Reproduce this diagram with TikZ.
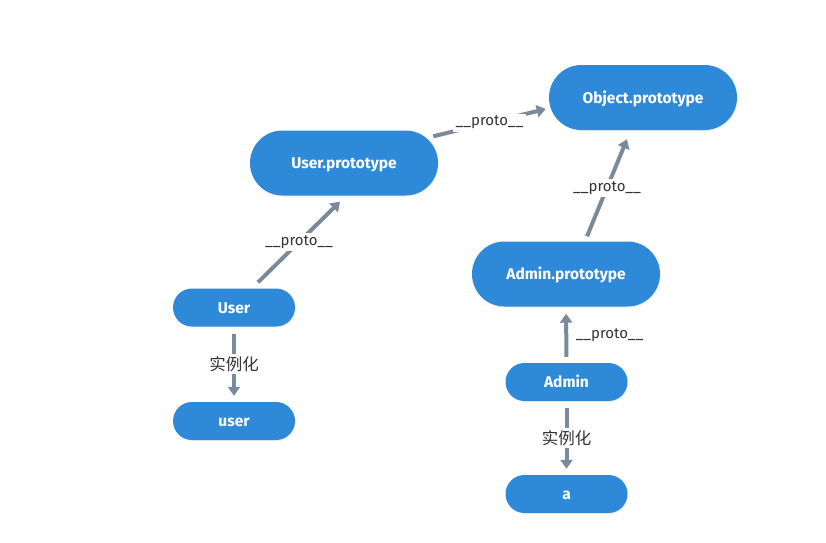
\documentclass[tikz,border=0pt]{standalone}
\usepackage{fontspec}
\setmainfont{Fira Sans}
\newfontfamily\cjk{Noto Sans CJK SC}
\usetikzlibrary{arrows.meta,shadows}
\definecolor{nodeblue}{HTML}{2E89D9}
\definecolor{linegrey}{HTML}{7A8A9A}
\definecolor{labelgrey}{HTML}{333333}
\tikzset{
  pill/.style={fill=nodeblue, draw=none, text=white, font=\fontsize{15.5}{18}\selectfont\bfseries,
    inner sep=0pt, text height=11pt, text depth=0pt,
    drop shadow={opacity=0.12, shadow xshift=0.8pt, shadow yshift=-1.2pt}},
  bigpill/.style={pill, minimum width=188pt, minimum height=65pt, rounded corners=32.5pt},
  smallpill/.style={pill, minimum width=122pt, minimum height=38pt, rounded corners=19pt},
  arr/.style={draw=linegrey, line width=4pt, -{Triangle[length=9pt,width=12pt]}},
  lbl/.style={fill=white, text=labelgrey, inner sep=2.5pt, font=\fontsize{15}{17}\selectfont},
  cjklbl/.style={fill=white, text=labelgrey, inner sep=2.5pt, font=\cjk\fontsize{16.5}{19}\selectfont},
}
\begin{document}
\begin{tikzpicture}[x=1pt,y=-1pt]
\useasboundingbox (0,0) rectangle (826,542);
\node[bigpill] (ObjP) at (643,97.5) {Object.prototype};
\node[bigpill] (UserP) at (344,163) {User.prototype};
\node[bigpill] (AdminP) at (566,274) {Admin.prototype};
\node[smallpill] (User) at (234,307.5) {User};
\node[smallpill] (user) at (234,421) {user};
\node[smallpill] (Admin) at (566.5,382) {Admin};
\node[smallpill] (a) at (566.5,494) {a};

\draw[arr] ([shift={(24pt,6pt)}]User.north) -- node[lbl]{\_\_proto\_\_} ([shift={(-4pt,-6pt)}]UserP.south);
\draw[arr] ([shift={(-5pt,-6pt)}]UserP.north east) -- node[lbl]{\_\_proto\_\_} ([shift={(-3pt,-11.5pt)}]ObjP.west);
\draw[arr] ([shift={(21pt,5pt)}]AdminP.north) -- node[lbl]{\_\_proto\_\_} ([shift={(-16pt,-9pt)}]ObjP.south);
\draw[arr, shorten <=6pt, shorten >=7pt] (Admin.north) -- node[lbl, fill=none, right=5pt]{\_\_proto\_\_} (AdminP.south);
\draw[arr, shorten <=7pt, shorten >=6pt] (User.south) -- node[cjklbl]{实例化} (user.north);
\draw[arr, shorten <=7pt, shorten >=6pt] (Admin.south) -- node[cjklbl]{实例化} (a.north);
\end{tikzpicture}
\end{document}
